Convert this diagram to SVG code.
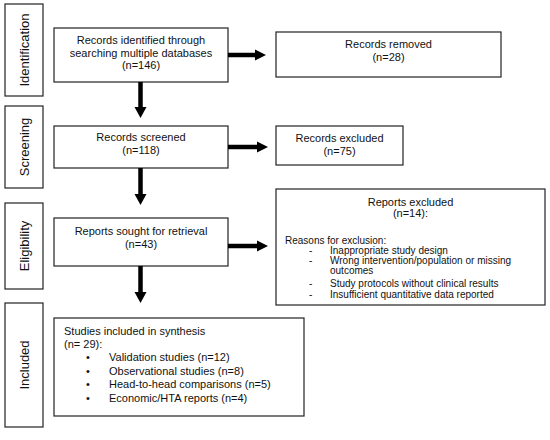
<svg xmlns="http://www.w3.org/2000/svg" width="550" height="440" viewBox="0 0 550 440">
<defs>
<style>
.box{fill:#fff;stroke:#222;stroke-width:1.2}
.t{font-family:"Liberation Sans",Arial,sans-serif;font-size:11px;fill:#111}
.s{font-size:10px}
.c{text-anchor:middle}
.side{font-family:"Liberation Sans",Arial,sans-serif;font-size:13px;fill:#111;text-anchor:middle}
.sh{stroke:#000;stroke-width:4.5;fill:none}
.hd{fill:#000}
</style>
</defs>
<rect width="550" height="440" fill="#fff"/>
<g id="phase-identification"><rect class="box" x="5" y="4" width="38" height="92"/><text class="side" transform="translate(28.5,50) rotate(-90)">Identification</text></g>
<g id="phase-screening"><rect class="box" x="5" y="106" width="38" height="82"/><text class="side" transform="translate(28.5,147) rotate(-90)">Screening</text></g>
<g id="phase-eligibility"><rect class="box" x="5" y="203" width="38" height="86"/><text class="side" transform="translate(28.5,246) rotate(-90)">Eligibility</text></g>
<g id="phase-included"><rect class="box" x="5" y="303" width="38" height="124"/><text class="side" transform="translate(28.5,365) rotate(-90)">Included</text></g>

<g id="identified"><rect class="box" x="54" y="28" width="174" height="54"/>
<text class="t c" x="141" y="44">Records identified through</text>
<text class="t c" x="141" y="56.5">searching multiple databases</text>
<text class="t c" x="141" y="69">(n=146)</text></g>
<g id="removed"><rect class="box" x="276" y="32" width="225" height="45"/>
<text class="t c" x="388.5" y="48">Records removed</text>
<text class="t c" x="388.5" y="61">(n=28)</text></g>
<g id="screened"><rect class="box" x="54" y="126" width="174" height="42"/>
<text class="t c" x="141" y="141">Records screened</text>
<text class="t c" x="141" y="154">(n=118)</text></g>
<g id="excluded"><rect class="box" x="276" y="126" width="127" height="39"/>
<text class="t c" x="339.5" y="142">Records excluded</text>
<text class="t c" x="339.5" y="155">(n=75)</text></g>
<g id="sought"><rect class="box" x="54" y="218" width="174" height="48"/>
<text class="t c" x="141" y="235">Reports sought for retrieval</text>
<text class="t c" x="141" y="248">(n=43)</text></g>
<g id="reports-excluded"><rect class="box" x="276" y="189" width="269" height="116"/>
<text class="t c" x="410.5" y="206">Reports excluded</text>
<text class="t c" x="410.5" y="217">(n=14):</text>
<text class="t s" x="285" y="243.5">Reasons for exclusion:</text>
<text class="t s" x="309" y="253.5">-</text><text class="t s" x="330" y="253.5">Inappropriate study design</text>
<text class="t s" x="309" y="263.5">-</text><text class="t s" x="330" y="263.5">Wrong intervention/population or missing</text>
<text class="t s" x="330" y="274">outcomes</text>
<text class="t s" x="309" y="287">-</text><text class="t s" x="330" y="287">Study protocols without clinical results</text>
<text class="t s" x="309" y="297.5">-</text><text class="t s" x="330" y="297.5">Insufficient quantitative data reported</text></g>
<g id="included"><rect class="box" x="54" y="318" width="250" height="98"/>
<text class="t" x="64" y="335">Studies included in synthesis</text>
<text class="t" x="64" y="348">(n= 29):</text>
<text class="t" x="86" y="361">•</text><text class="t" x="109" y="361">Validation studies (n=12)</text>
<text class="t" x="86" y="374.5">•</text><text class="t" x="109" y="374.5">Observational studies (n=8)</text>
<text class="t" x="86" y="388">•</text><text class="t" x="109" y="388">Head-to-head comparisons (n=5)</text>
<text class="t" x="86" y="401.5">•</text><text class="t" x="109" y="401.5">Economic/HTA reports (n=4)</text></g>

<g id="connectors">
<line class="sh" x1="228" y1="55" x2="256" y2="55"/><path class="hd" d="M255,49.5 L266,55 L255,60.5 Z"/>
<line class="sh" x1="228" y1="147" x2="258" y2="147"/><path class="hd" d="M257,141.5 L268,147 L257,152.5 Z"/>
<line class="sh" x1="228" y1="246" x2="258" y2="246"/><path class="hd" d="M257,240.5 L268,246 L257,251.5 Z"/>
<line class="sh" x1="140.5" y1="82" x2="140.5" y2="108"/><path class="hd" d="M134.5,107 L146.5,107 L140.5,118 Z"/>
<line class="sh" x1="140.5" y1="168" x2="140.5" y2="195"/><path class="hd" d="M134.5,194 L146.5,194 L140.5,205 Z"/>
<line class="sh" x1="140.5" y1="266" x2="140.5" y2="293"/><path class="hd" d="M134.5,292 L146.5,292 L140.5,303 Z"/>
</g>
</svg>
